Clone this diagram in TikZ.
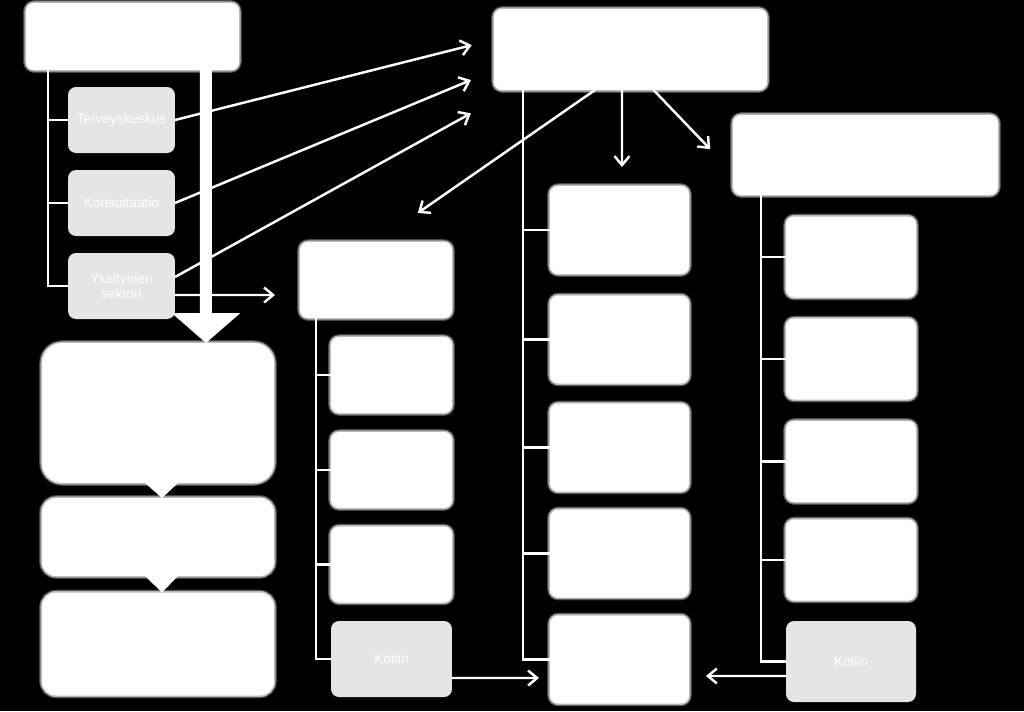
\documentclass[tikz,border=0pt]{standalone}
\usepackage{fontspec}
\setmainfont{Liberation Sans}
\usepackage{tikz}
\usetikzlibrary{
    arrows.meta,
    positioning,
    calc
}
\tikzset{
  wbox/.style    = {fill=white, rounded corners=0.16cm, inner sep=0pt, outer sep=0pt,
                    preaction={draw=glowDark, line width=3.2pt},
                    preaction={draw=glowGray, line width=1.8pt}},
  bigbox/.style  = {wbox, minimum width=4.64cm, rounded corners=0.28cm},
  gbox/.style    = {fill=boxGray, rounded corners=0.16cm, inner sep=0pt, outer sep=0pt,
                    minimum width=2.14cm, minimum height=1.32cm, align=center,
                    text=white, font=\fontsize{7.8}{9}\selectfont},
  dbox/.style    = {wbox, minimum width=2.42cm, minimum height=1.52cm},
  mbox/.style    = {wbox, minimum width=2.78cm, minimum height=1.76cm},
  ebox/.style    = {wbox, minimum width=2.6cm, minimum height=1.62cm},
  tree/.style    = {white, line width=1.3pt},
  arr/.style     = {-{Straight Barb[length=0.18cm,width=0.3cm]}, white, line width=1.4pt},
  bigarr/.style  = {-{Triangle[length=0.6cm,width=1.34cm]}, white, line width=0.24cm}
}
\definecolor{boxGray}{RGB}{229,229,229}
\definecolor{glowGray}{RGB}{185,185,185}
\definecolor{glowDark}{RGB}{70,70,70}

\begin{document}
\begin{tikzpicture}[x=0.02cm, y=-0.02cm]
        \fill[black] (0,0) rectangle (1024,711);
        \useasboundingbox (0,0) rectangle (1024,711);

        \node[wbox, minimum width=4.26cm, minimum height=1.34cm] (lahete) at (132.5,36.5) {};
        \node[gbox] (terv) at (121.5,120) {Terveyskeskus};
        \node[gbox] (kons) at (121.5,203) {Konsultaatio};
        \node[gbox] (yksit) at (121.5,286) {Yksityinen\\sektori};

        \node[bigbox, minimum height=2.8cm, rounded corners=0.4cm] (vaihe1) at (158,413) {};
        \node[bigbox, minimum height=1.56cm] (vaihe2) at (158,537) {};
        \node[bigbox, minimum height=2.06cm] (vaihe3) at (158,644) {};

        \node[wbox, minimum width=5.46cm, minimum height=1.62cm] (sair) at (630.5,49.5) {};
        \node[mbox] (sair1) at (619.5,230) {};
        \node[mbox] (sair2) at (619.5,339.5) {};
        \node[mbox] (sair3) at (619.5,447.5) {};
        \node[mbox] (sair4) at (619.5,553.5) {};
        \node[mbox] (sair5) at (619.5,659.5) {};

        \node[wbox, minimum width=3.04cm, minimum height=1.52cm] (pkl) at (376,280) {};
        \node[dbox] (pkl1) at (391.5,375) {};
        \node[dbox] (pkl2) at (391.5,470) {};
        \node[dbox] (pkl3) at (391.5,564.5) {};
        \node[gbox, minimum width=2.42cm, minimum height=1.52cm] (pkl4) at (391.5,659) {Kotiin};

        \node[wbox, minimum width=5.3cm, minimum height=1.6cm] (osasto) at (865.5,155) {};
        \node[ebox] (os1) at (851,257) {};
        \node[ebox] (os2) at (851,359) {};
        \node[ebox] (os3) at (851,461.5) {};
        \node[ebox] (os4) at (851,560) {};
        \node[gbox, minimum width=2.6cm, minimum height=1.62cm] (os5) at (851,661.5) {Kotiin};

        \fill[white] ([xshift=-0.26cm]vaihe1.south) -- ([xshift=0.4cm]vaihe1.south) -- ([xshift=0.08cm]vaihe2.north) -- cycle;
        \fill[white] ([xshift=-0.26cm]vaihe2.south) -- ([xshift=0.4cm]vaihe2.south) -- ([xshift=0.08cm]vaihe3.north) -- cycle;

        \draw[tree] ([xshift=0.44cm]lahete.south west) |- (terv.west);
        \draw[tree] ([xshift=0.44cm]lahete.south west) |- (kons.west);
        \draw[tree] ([xshift=0.44cm]lahete.south west) |- (yksit.west);

        \draw[tree] ([xshift=0.32cm]pkl.south west) |- (pkl1.west);
        \draw[tree] ([xshift=0.32cm]pkl.south west) |- (pkl2.west);
        \draw[tree] ([xshift=0.32cm]pkl.south west) |- (pkl3.west);
        \draw[tree] ([xshift=0.32cm]pkl.south west) |- (pkl4.west);

        \draw[tree] ([xshift=0.58cm]sair.south west) |- (sair1.west);
        \draw[tree] ([xshift=0.58cm]sair.south west) |- (sair2.west);
        \draw[tree] ([xshift=0.58cm]sair.south west) |- (sair3.west);
        \draw[tree] ([xshift=0.58cm]sair.south west) |- (sair4.west);
        \draw[tree] ([xshift=0.58cm]sair.south west) |- (sair5.west);

        \draw[tree] ([xshift=0.56cm]osasto.south west) |- (os1.west);
        \draw[tree] ([xshift=0.56cm]osasto.south west) |- (os2.west);
        \draw[tree] ([xshift=0.56cm]osasto.south west) |- (os3.west);
        \draw[tree] ([xshift=0.56cm]osasto.south west) |- (os4.west);
        \draw[tree] ([xshift=0.56cm]osasto.south west) |- (os5.west);

        \draw[bigarr] ([xshift=-0.66cm]lahete.south east) -- ([xshift=-1.36cm]vaihe1.north east);

        \draw[arr, shorten >=0.46cm] (terv.east) -- ([yshift=0.2cm]sair.west);
        \draw[arr, shorten >=0.5cm] (kons.east) -- ([yshift=-0.42cm]sair.west);
        \draw[arr, shorten >=0.53cm] ([yshift=0.18cm]yksit.east) -- ([yshift=-1.02cm]sair.west);
        \draw[arr, shorten >=0.5cm] ([yshift=-0.18cm]yksit.east) -- ([yshift=-0.3cm]pkl.west);

        \draw[arr, shorten >=1.02cm] ([xshift=-0.71cm]sair.south) -- (pkl.north);
        \draw[arr, shorten >=0.38cm] ([xshift=-0.17cm]sair.south) -- ([xshift=0.05cm]sair1.north);
        \draw[arr, shorten >=0.66cm] ([xshift=0.46cm]sair.south) -- ([yshift=-0.36cm]osasto.west);

        \draw[arr, shorten >=0.22cm] ([yshift=-0.38cm]pkl4.east) -- ([yshift=-0.37cm]sair5.west);
        \draw[arr, shorten >=0.34cm] ([yshift=-0.29cm]os5.west) -- ([yshift=-0.33cm]sair5.east);
      \end{tikzpicture}
\end{document}
